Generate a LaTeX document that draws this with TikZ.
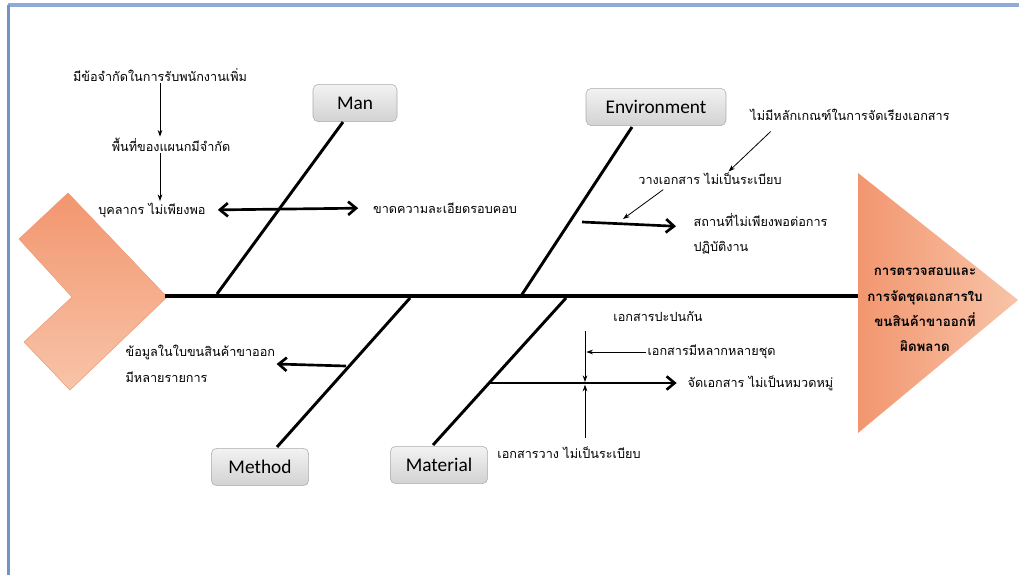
\documentclass[tikz,border=0pt]{standalone}
\usepackage{fontspec}
\newfontfamily\thaifont[Script=Thai]{Loma}
\newfontfamily\boxfont{Carlito}
\usetikzlibrary{arrows.meta}
\definecolor{frameblue}{HTML}{8FAAD6}
\definecolor{frameside}{HTML}{7392C6}
\definecolor{fishdark}{HTML}{F2966F}
\definecolor{fishlight}{HTML}{F8C4A8}
\definecolor{fishline}{HTML}{EE9A78}
\begin{document}
\begin{tikzpicture}[x=0.75pt,y=-0.75pt]
	\tikzstyle{Cat} = [rectangle, rounded corners=4pt, minimum height=28pt, text centered, draw=gray!65, top color=gray!10, bottom color=gray!35, font=\boxfont\fontsize{14.5}{17}\selectfont]
	\tikzstyle{Cause} = [font=\thaifont\fontsize{9.5}{19}\selectfont, inner sep=1pt, align=left]
	\tikzstyle{bone} = [line width=2.2pt]
	\tikzstyle{arrow} = [line width=2pt, -{Straight Barb[length=6pt,width=10pt]}]
	\tikzstyle{thin} = [line width=0.6pt, -{Stealth[length=5pt,width=3.5pt]}]

	\useasboundingbox (0,0) rectangle (1019,575);
	\fill[white] (0,0) rectangle (1019,575);
	% window frame
	\fill[frameblue] (8,3) rectangle (1019,7);
	\fill[frameside] (7,5) rectangle (10,575);

	% tail and head
	\shade[top color=fishdark, bottom color=fishlight, draw=fishline] (68,193) -- (167,297) -- (70,390) -- (24,342) -- (72,297) -- (19,239) -- cycle;
	\shade[left color=fishdark, right color=fishlight] (858,173) -- (1018,300) -- (858,433) -- cycle;
	\node (problem) [font=\thaifont\bfseries\fontsize{10}{19}\selectfont, align=center] at (925,310) {การตรวจสอบและ\\การจัดชุดเอกสารใบ\\ขนสินค้าขาออกที่\\ผิดพลาด};

	% spine
	\coordinate (tail) at (165,296);
	\coordinate (head) at (858,296);
	\draw [line width=3pt] (tail) -- (head);

	% categories
	\node (man) [Cat, minimum width=63pt] at (355,103) {Man};
	\node (env) [Cat, minimum width=105pt] at (656,107) {Environment};
	\node (method) [Cat, minimum width=73pt] at (260,467) {Method};
	\node (material) [Cat, minimum width=73pt] at (439,465) {Material};
	\coordinate (manEnd) at (217,294);
	\coordinate (envEnd) at (521,296);
	\coordinate (methodEnd) at (410,298);
	\coordinate (materialEnd) at (566,298);
	\draw [bone] (343,122) -- (manEnd);
	\draw [bone] (632,127) -- (envEnd);
	\draw [bone] (277,447) -- (methodEnd);
	\draw [bone] (433,445) -- (materialEnd);

	% man
	\node (limit) [Cause] at (160,75) {มีข้อจำกัดในการรับพนักงานเพิ่ม};
	\node (space) [Cause] at (171,145) {พื้นที่ของแผนกมีจำกัด};
	\node (staff) [Cause] at (152,210) {บุคลากร ไม่เพียงพอ};
	\node (detail) [Cause] at (445,208) {ขาดความละเอียดรอบคอบ};
	\draw [thin] (limit.south) -- (limit.south |- space.north);
	\draw [thin] (limit.south |- space.south) -- (limit.south |- staff.north);
	\draw [arrow, {Straight Barb[length=6pt,width=10pt]}-{Straight Barb[length=6pt,width=10pt]}, shorten <=8pt, shorten >=10pt] (staff.east) -- (detail.west);

	% method
	\coordinate (methodA) at (346,366);
	\node (items) [Cause, anchor=west] at (124,364) {ข้อมูลในใบขนสินค้าขาออก\\มีหลายรายการ};
	\draw [arrow] (methodA) -- (items.east);

	% environment
	\coordinate (envA) at (582,222);
	\coordinate (envB) at (623,219);
	\node (rule) [Cause] at (850,115) {ไม่มีหลักเกณฑ์ในการจัดเรียงเอกสาร};
	\node (arrange) [Cause] at (710,179) {วางเอกสาร ไม่เป็นระเบียบ};
	\node (place) [Cause, anchor=west] at (692,234) {สถานที่ไม่เพียงพอต่อการ\\ปฏิบัติงาน};
	\draw [arrow, shorten >=12pt] (envA) -- (place.west |- 0,227);
	\draw [thin, shorten <=10pt] (rule.186) -- (arrange.22);
	\draw [thin, shorten <=4pt] (arrange.190) -- (envB);

	% material
	\coordinate (matA) at (489,383);
	\coordinate (matB) at (585,382);
	\node (sort) [Cause, anchor=west] at (686,383) {จัดเอกสาร ไม่เป็นหมวดหมู่};
	\node (mixed) [Cause] at (658,316) {เอกสารปะปนกัน};
	\node (variety) [Cause, anchor=west] at (646,352) {เอกสารมีหลากหลายชุด};
	\node (loose) [Cause] at (569,453) {เอกสารวาง ไม่เป็นระเบียบ};
	\draw [arrow, shorten >=7pt] (matA) -- (sort.west);
	\draw [thin, shorten <=6pt] (matB |- mixed.south) -- (matB);
	\draw [thin, shorten >=1pt] (variety.west) -- (variety.west -| matB);
	\draw [thin, shorten <=6pt] (matB |- loose.north) -- ([yshift=-2pt]matB);
\end{tikzpicture}
\end{document}
